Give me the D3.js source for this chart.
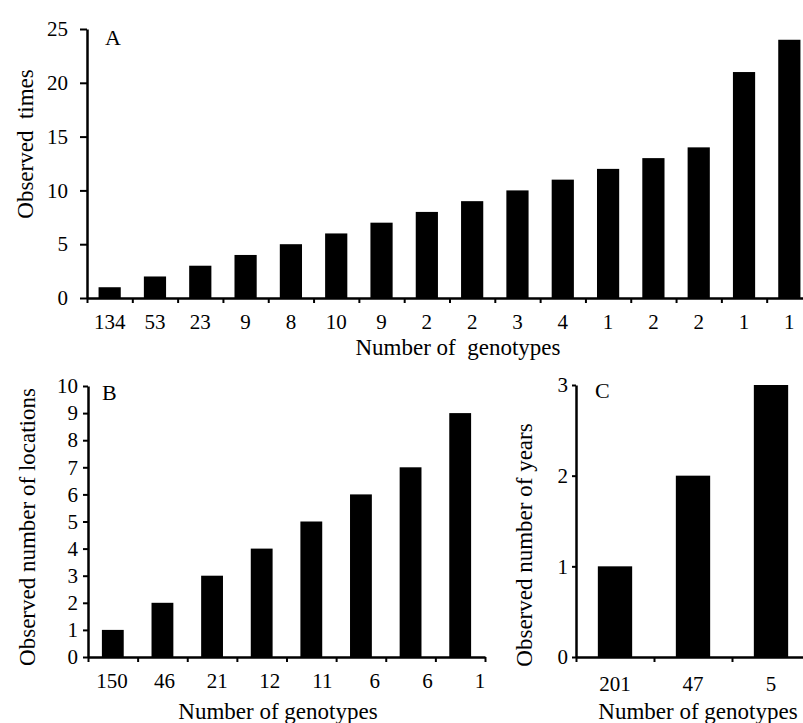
<!DOCTYPE html>
<html>
<head>
<meta charset="utf-8">
<script src="https://cdn.jsdelivr.net/npm/d3@7"></script>
<style>
  body { margin: 0; background: #fff; }
  text { font-family: "Liberation Serif", "Times New Roman", serif; fill: #000; }
</style>
</head>
<body>
<div id="chart"></div>
<script>
// panel A: how many times a genotype was observed
const genotypesA = ["134", "53", "23", "9", "8", "10", "9", "2", "2", "3", "4", "1", "2", "2", "1", "1"];
const timesA = [1, 2, 3, 4, 5, 6, 7, 8, 9, 10, 11, 12, 13, 14, 21, 24];
const yTicksA = [0, 5, 10, 15, 20, 25];

// panel B: number of locations
const genotypesB = ["150", "46", "21", "12", "11", "6", "6", "1"];
const locationsB = [1, 2, 3, 4, 5, 6, 7, 9];
const yTicksB = [0, 1, 2, 3, 4, 5, 6, 7, 8, 9, 10];

// panel C: number of years
const genotypesC = ["201", "47", "5"];
const yearsC = [1, 2, 3];
const yTicksC = [0, 1, 2, 3];

const svg = d3.select("#chart").append("svg")
    .attr("width", 803)
    .attr("height", 723);

function drawPanel(p) {
    const n = p.labels.length;

    // edges of the categories (ticks sit between bars)
    const edge = d3.scaleLinear().domain([0, n]).range([p.x0, p.x1]);
    const x = d3.scaleBand()
        .domain(d3.range(n))
        .range([p.x0, p.x1])
        .paddingInner(p.pad)
        .paddingOuter(p.pad / 2);
    const y = d3.scaleLinear()
        .domain([0, d3.max(p.yTicks)])
        .range([p.y0, p.y1]);

    const g = svg.append("g");

    g.selectAll("rect")
        .data(p.values)
        .enter().append("rect")
            .attr("x", (d, i) => x(i))
            .attr("y", d => y(d))
            .attr("width", x.bandwidth())
            .attr("height", d => y(0) - y(d))
            .attr("fill", "#000");

    const yAxisG = g.append("g")
        .attr("transform", `translate(${p.x0},0)`)
        .call(d3.axisLeft(y)
            .tickValues(p.yTicks)
            .tickFormat(d3.format("d"))
            .tickSize(p.yTick)
            .tickSizeOuter(0)
            .tickPadding(p.yPad));

    const xAxisG = g.append("g")
        .attr("transform", `translate(0,${p.y0})`)
        .call(d3.axisBottom(edge)
            .tickValues(d3.range(n + 1))
            .tickSize(5)
            .tickSizeOuter(0)
            .tickFormat(""));

    g.selectAll(".domain").attr("stroke", "#000").attr("stroke-width", 2.5);
    g.selectAll(".tick line").attr("stroke", "#000").attr("stroke-width", 2);
    yAxisG.selectAll("text")
        .attr("font-size", 21)
        .attr("fill", "#000");

    // category labels
    let labelX = i => x(i) + x.bandwidth() / 2;
    if (p.labelRange) {
        const lx = d3.scalePoint().domain(d3.range(n)).range(p.labelRange);
        labelX = i => lx(i);
    }
    g.selectAll(".catLabel")
        .data(p.labels)
        .enter().append("text")
            .attr("class", "catLabel")
            .attr("x", (d, i) => labelX(i))
            .attr("y", p.y0 + p.labelDy)
            .attr("text-anchor", "middle")
            .attr("font-size", 21)
            .text(d => d);

    g.append("text")
        .attr("x", p.xTitle[0])
        .attr("y", p.xTitle[1])
        .attr("text-anchor", "middle")
        .attr("font-size", 23)
        .style("white-space", "pre")
        .text(p.xTitleText);

    g.append("text")
        .attr("transform", `translate(${p.yTitle[0]},${p.yTitle[1]}) rotate(-90)`)
        .attr("text-anchor", "middle")
        .attr("font-size", 23)
        .style("white-space", "pre")
        .text(p.yTitleText);

    g.append("text")
        .attr("x", p.letter[0])
        .attr("y", p.letter[1])
        .attr("font-size", 22)
        .text(p.letterText);
}

drawPanel({
    labels: genotypesA, values: timesA, yTicks: yTicksA,
    x0: 87, x1: 812, y0: 298, y1: 29, pad: 0.51,
    yTick: 7, yPad: 12, labelDy: 31,
    xTitle: [458, 355], xTitleText: "Number of  genotypes",
    yTitle: [33, 144], yTitleText: "Observed  times",
    letter: [105, 45], letterText: "A"
});

drawPanel({
    labels: genotypesB, values: locationsB, yTicks: yTicksB,
    x0: 88, x1: 485, y0: 657, y1: 386, pad: 0.56,
    yTick: 5, yPad: 5, labelDy: 31, labelRange: [112, 480],
    xTitle: [278, 719], xTitleText: "Number of genotypes",
    yTitle: [35, 527], yTitleText: "Observed number of locations",
    letter: [102, 400], letterText: "B"
});

drawPanel({
    labels: genotypesC, values: yearsC, yTicks: yTicksC,
    x0: 576, x1: 810, y0: 657, y1: 385, pad: 0.56,
    yTick: 4, yPad: 4, labelDy: 34,
    xTitle: [698, 719], xTitleText: "Number of genotypes",
    yTitle: [532, 545], yTitleText: "Observed number of years",
    letter: [595, 398], letterText: "C"
});
</script>
</body>
</html>
